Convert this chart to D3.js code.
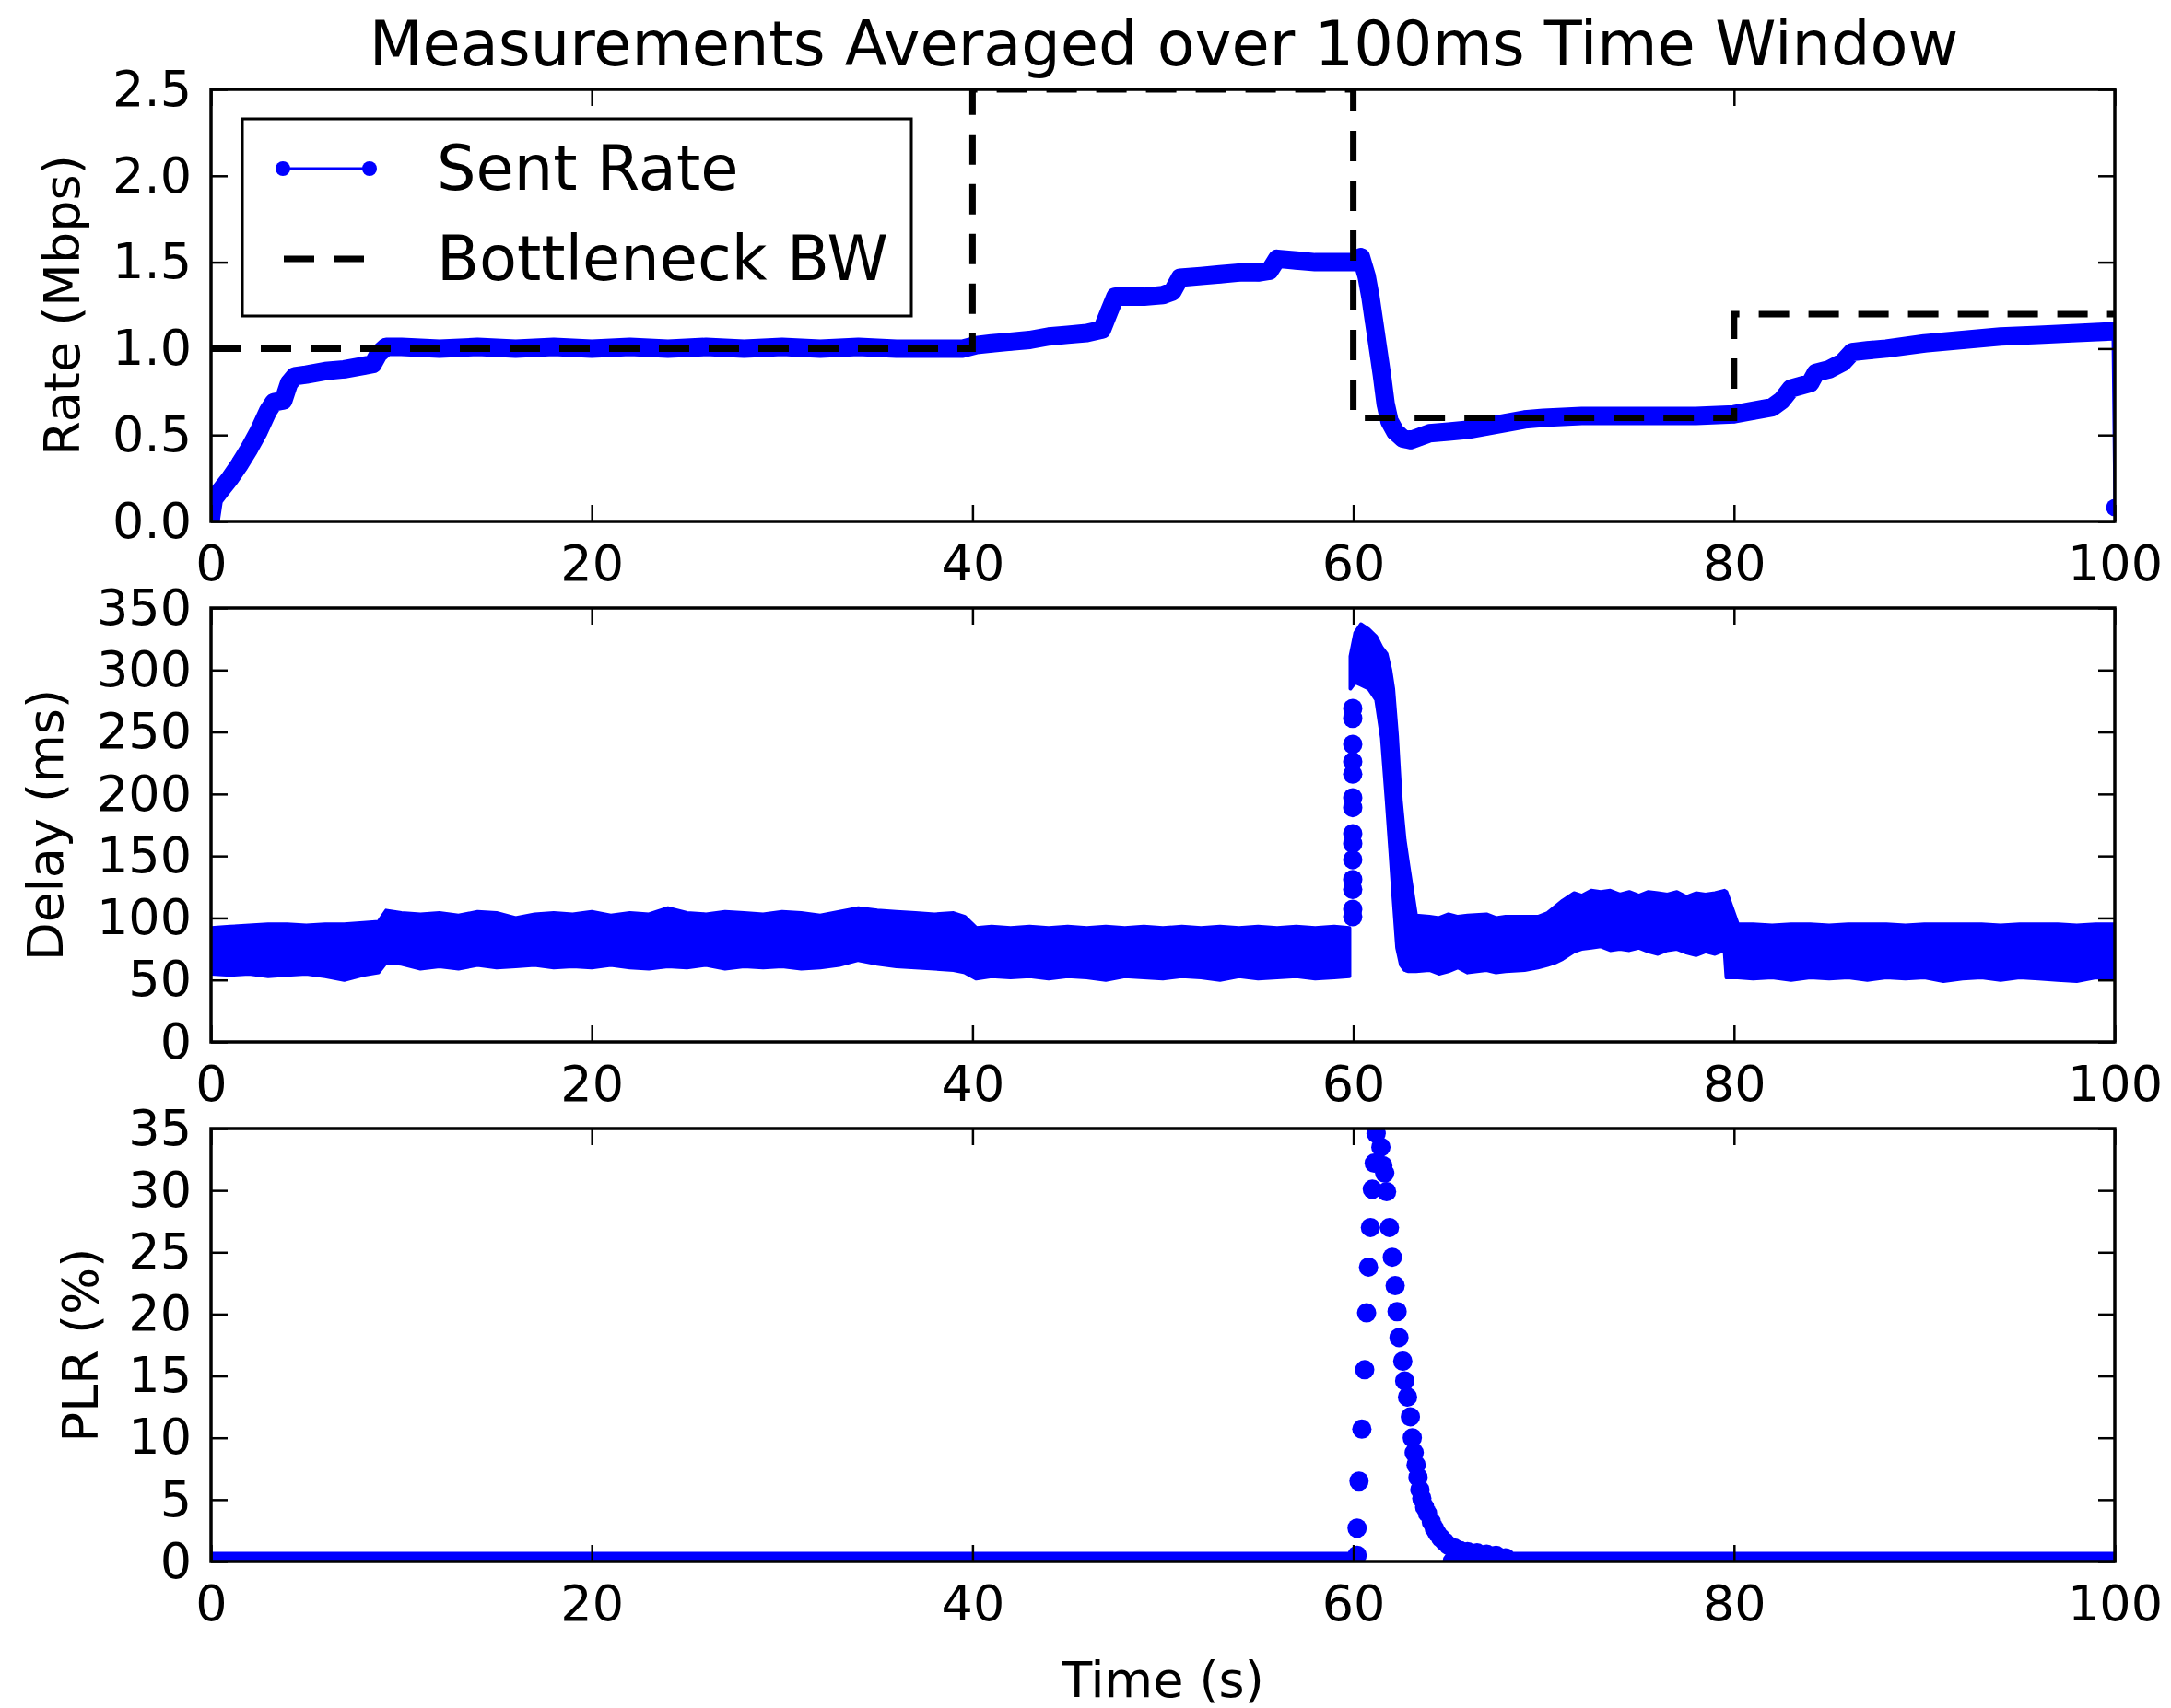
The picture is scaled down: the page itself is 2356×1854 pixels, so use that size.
<!DOCTYPE html>
<html>
<head>
<meta charset="utf-8">
<script src="https://cdn.jsdelivr.net/npm/d3@7"></script>
<style>
  html, body { margin: 0; padding: 0; background: #fff; }
  svg text { font-family: "DejaVu Sans", sans-serif; fill: #000; }
</style>
</head>
<body>
<svg id="chart" width="2356" height="1854"></svg>
<script>
// ---- data ---------------------------------------------------------------
const xTicks = [0, 20, 40, 60, 80, 100];
const rateTicks = [0, 0.5, 1.0, 1.5, 2.0, 2.5];
const delayTicks = [0, 50, 100, 150, 200, 250, 300, 350];
const plrTicks = [0, 5, 10, 15, 20, 25, 30, 35];

// Sent rate (Mbps) per time (s)
const sentRate = [
  [0, 0.02], [0.15, 0.13], [0.5, 0.18], [1, 0.25], [1.5, 0.33], [2, 0.42], [2.5, 0.52],
  [3, 0.64], [3.3, 0.69], [3.8, 0.70], [4.1, 0.80], [4.4, 0.84], [5, 0.85], [6, 0.87],
  [7, 0.88], [8, 0.90], [8.5, 0.91], [8.8, 0.97], [9.2, 1.01], [10, 1.01], [12, 1.00],
  [14, 1.01], [16, 1.00], [18, 1.01], [20, 1.00], [22, 1.01], [24, 1.00], [26, 1.01],
  [28, 1.00], [30, 1.01], [32, 1.00], [34, 1.01], [36, 1.00], [38, 1.00], [39.5, 1.00],
  [40.2, 1.02], [41, 1.03], [42, 1.04], [43, 1.05], [44, 1.07], [45, 1.08], [46, 1.09],
  [46.8, 1.11], [47.2, 1.22], [47.5, 1.30], [48, 1.30], [49, 1.30], [50, 1.31], [50.5, 1.33],
  [50.9, 1.41], [52, 1.42], [53, 1.43], [54, 1.44], [55, 1.44], [55.6, 1.45], [56, 1.52],
  [57, 1.51], [58, 1.50], [59, 1.50], [60, 1.50], [60.4, 1.53], [60.7, 1.42], [60.9, 1.30],
  [61.1, 1.15], [61.3, 1.00], [61.5, 0.85], [61.7, 0.68], [61.9, 0.58], [62.2, 0.52],
  [62.6, 0.48], [63, 0.47], [63.5, 0.49], [64, 0.51], [65, 0.52], [66, 0.53], [67, 0.55],
  [68, 0.57], [69, 0.59], [70, 0.60], [72, 0.61], [75, 0.61], [78, 0.61], [80, 0.62],
  [81, 0.64], [82, 0.66], [82.5, 0.70], [83, 0.77], [84, 0.80], [84.3, 0.86], [85, 0.88],
  [85.7, 0.92], [86.2, 0.98], [87, 0.99], [88, 1.00], [90, 1.03], [92, 1.05], [94, 1.07],
  [96, 1.08], [98, 1.09], [99.9, 1.10], [100, 0.08]
];

// Bottleneck bandwidth (Mbps), step changes
const bottleneckBW = [[0, 1.0], [40, 2.5], [60, 0.6], [80, 1.2], [100, 1.2]];

// Delay (ms): [time, lowest sample, highest sample] of the dense sample cloud
const delayBandEarly = [
  [0, 55, 92], [1, 54, 93], [2, 55, 94], [3, 53, 95], [4, 54, 95], [5, 55, 94], [6, 53, 95],
  [7, 50, 95], [8, 54, 96], [8.8, 56, 97], [9.2, 64, 106], [10, 63, 104], [11, 59, 103],
  [12, 61, 104], [13, 59, 102], [14, 62, 105], [15, 60, 104], [16, 61, 100], [17, 62, 103],
  [18, 60, 104], [19, 61, 103], [20, 60, 105], [21, 62, 102], [22, 60, 104], [23, 59, 103],
  [24, 61, 108], [25, 60, 104], [26, 62, 103], [27, 59, 105], [28, 61, 104], [29, 60, 103],
  [30, 61, 105], [31, 59, 104], [32, 60, 102], [33, 62, 105], [34, 66, 108], [35, 63, 106],
  [36, 61, 105], [37, 60, 104], [38, 59, 103], [39, 58, 104], [39.6, 56, 101], [40.2, 51, 92],
  [41, 53, 93], [42, 52, 92], [43, 53, 93], [44, 51, 92], [45, 53, 93], [46, 52, 92],
  [47, 50, 93], [48, 53, 92], [49, 52, 93], [50, 51, 92], [51, 53, 93], [52, 52, 92],
  [53, 50, 93], [54, 53, 92], [55, 51, 93], [56, 52, 92], [57, 53, 93], [58, 51, 92],
  [59, 52, 93], [59.8, 53, 92]
];
const delayBandLate = [
  [59.85, 285, 311], [60.1, 290, 330], [60.4, 288, 337], [60.8, 285, 333], [61.2, 276, 327],
  [61.5, 245, 318], [61.75, 195, 313], [61.95, 152, 300], [62.1, 118, 285], [62.3, 76, 247],
  [62.5, 62, 195], [62.7, 58, 163], [62.9, 57, 142], [63.1, 57, 122], [63.3, 57, 102],
  [64, 58, 101], [64.5, 55, 100], [65, 57, 103], [65.5, 60, 101], [66, 56, 102], [67, 58, 103],
  [67.5, 56, 100], [68, 57, 101], [69, 58, 101], [69.7, 60, 101], [70.2, 62, 104],
  [70.6, 64, 109], [71, 67, 114], [71.6, 73, 120], [72, 75, 118], [72.5, 76, 122],
  [73, 77, 121], [73.5, 74, 122], [74, 75, 119], [74.5, 74, 121], [75, 76, 118],
  [75.5, 73, 121], [76, 71, 120], [76.5, 74, 119], [77, 75, 121], [77.5, 72, 117],
  [78, 70, 120], [78.5, 73, 119], [79, 71, 120], [79.5, 74, 122], [79.6, 52, 121],
  [80.2, 52, 95], [81, 51, 95], [82, 52, 94], [83, 50, 95], [84, 52, 95], [85, 51, 94],
  [86, 52, 95], [87, 50, 95], [88, 52, 95], [89, 51, 94], [90, 52, 95], [91, 49, 95],
  [92, 51, 95], [93, 52, 95], [94, 50, 94], [95, 52, 95], [96, 51, 95], [97, 50, 95],
  [98, 49, 94], [99, 52, 95], [100, 51, 95]
];
// Isolated delay samples while the queue builds up at t = 60 s
const delayOnsetDots = [
  [59.97, 101], [59.97, 107], [59.97, 123], [59.97, 131], [59.97, 147], [59.97, 160],
  [59.97, 168], [59.97, 189], [59.97, 197], [59.97, 216], [59.97, 226], [59.97, 240],
  [59.97, 261], [59.97, 269]
];

// Packet loss rate (%)
const plrSpike = [
  [60.2, 0.5], [60.2, 2.7], [60.3, 6.5], [60.45, 10.7], [60.6, 15.5], [60.7, 20.1],
  [60.8, 23.8], [60.9, 27.0], [61.0, 30.1], [61.1, 32.2], [61.2, 34.6], [61.3, 35.5],
  [61.45, 33.5], [61.55, 32.0], [61.65, 31.4], [61.75, 29.9], [61.9, 27.0], [62.05, 24.6],
  [62.2, 22.3], [62.3, 20.2], [62.4, 18.1], [62.6, 16.2], [62.7, 14.6], [62.85, 13.3],
  [63.0, 11.7], [63.1, 10.0], [63.2, 8.8], [63.3, 7.8], [63.4, 6.8], [63.5, 5.8],
  [63.6, 5.1], [63.75, 4.4], [63.9, 3.9], [64.1, 3.2], [64.25, 2.7], [64.4, 2.3],
  [64.6, 1.9], [64.8, 1.6], [65.0, 1.3], [65.3, 1.1], [65.6, 0.9], [66.0, 0.8],
  [66.5, 0.7], [67.0, 0.6], [67.5, 0.5], [68.0, 0.3]
];
// Spans (s) where the loss rate stays at zero
const plrZeroSpans = [[0, 60.1], [65.2, 100]];

// ---- layout -------------------------------------------------------------
const BLUE = "#0000ff";
const TICK_FONT = 54, BIG_FONT = 67;
const DOT_R = 10.5;
const left = 229, right = 2295;
const panels = [
  { top: 97, bottom: 566 },
  { top: 660, bottom: 1131 },
  { top: 1225, bottom: 1695 }
];

const svg = d3.select("#chart");
const x = d3.scaleLinear().domain([0, 100]).range([left, right]);

const yRate = d3.scaleLinear().domain([0, 2.5]).range([panels[0].bottom, panels[0].top]);
const yDelay = d3.scaleLinear().domain([0, 350]).range([panels[1].bottom, panels[1].top]);
const yPlr = d3.scaleLinear().domain([0, 35]).range([panels[2].bottom, panels[2].top]);

const defs = svg.append("defs");
panels.forEach((p, i) => {
  defs.append("clipPath").attr("id", "clip" + i)
    .append("rect").attr("x", left).attr("y", p.top)
    .attr("width", right - left).attr("height", p.bottom - p.top);
});

// ---- panel 1: rates -------------------------------------------------------
const g1 = svg.append("g").attr("clip-path", "url(#clip0)");
const rateLine = d3.line().x(d => x(d[0])).y(d => yRate(d[1]));
// dense 100 ms samples form a thick trace; the last sample is joined by a thin connector
g1.append("path").datum(sentRate.slice(0, -1))
  .attr("d", rateLine).attr("fill", "none").attr("stroke", BLUE)
  .attr("stroke-width", 20).attr("stroke-linejoin", "round").attr("stroke-linecap", "round");
g1.append("path").datum(sentRate)
  .attr("d", rateLine).attr("fill", "none").attr("stroke", BLUE).attr("stroke-width", 3);
g1.selectAll("circle.rate").data(sentRate).join("circle").attr("class", "rate")
  .attr("cx", d => x(d[0])).attr("cy", d => yRate(d[1])).attr("r", 9.5).attr("fill", BLUE);
g1.append("path").datum(bottleneckBW)
  .attr("d", d3.line().curve(d3.curveStepAfter).x(d => x(d[0])).y(d => yRate(d[1])))
  .attr("fill", "none").attr("stroke", "#000").attr("stroke-width", 7)
  .attr("stroke-dasharray", "33,21");

// ---- panel 2: delay -------------------------------------------------------
const g2 = svg.append("g").attr("clip-path", "url(#clip1)");
const delayArea = d3.area().x(d => x(d[0])).y0(d => yDelay(d[1])).y1(d => yDelay(d[2]));
[delayBandEarly, delayBandLate].forEach(band => {
  g2.append("path").datum(band).attr("d", delayArea)
    .attr("fill", BLUE).attr("stroke", BLUE).attr("stroke-width", 4)
    .attr("stroke-linejoin", "round");
});
g2.selectAll("circle.onset").data(delayOnsetDots).join("circle").attr("class", "onset")
  .attr("cx", d => x(d[0])).attr("cy", d => yDelay(d[1])).attr("r", DOT_R).attr("fill", BLUE);

// ---- panel 3: packet loss ---------------------------------------------------
const g3 = svg.append("g").attr("clip-path", "url(#clip2)");
g3.selectAll("line.zero").data(plrZeroSpans).join("line").attr("class", "zero")
  .attr("x1", d => x(d[0])).attr("x2", d => x(d[1]))
  .attr("y1", yPlr(0)).attr("y2", yPlr(0))
  .attr("stroke", BLUE).attr("stroke-width", 2 * DOT_R).attr("stroke-linecap", "round");
g3.selectAll("circle.plr").data(plrSpike).join("circle").attr("class", "plr")
  .attr("cx", d => x(d[0])).attr("cy", d => yPlr(d[1])).attr("r", DOT_R).attr("fill", BLUE);

// ---- axes -------------------------------------------------------------------
function styleAxis(sel) {
  sel.select(".domain").remove();
  sel.attr("font-size", null).attr("font-family", null);
  sel.selectAll(".tick line").attr("stroke", "#000").attr("stroke-width", 2.5);
  sel.selectAll(".tick text").attr("font-size", TICK_FONT);
}

function drawAxes(p, y, yTicks, yFmt) {
  const g = svg.append("g");
  g.append("g").attr("transform", `translate(0,${p.bottom})`)
    .call(d3.axisBottom(x).tickValues(xTicks).tickSizeInner(-18).tickSizeOuter(0)
      .tickPadding(26).tickFormat(d3.format("d")))
    .call(styleAxis);
  g.append("g").attr("transform", `translate(0,${p.top})`)
    .call(d3.axisTop(x).tickValues(xTicks).tickSizeInner(-18).tickSizeOuter(0).tickFormat(""))
    .call(styleAxis);
  g.append("g").attr("transform", `translate(${left},0)`)
    .call(d3.axisLeft(y).tickValues(yTicks).tickSizeInner(-18).tickSizeOuter(0)
      .tickPadding(21).tickFormat(yFmt))
    .call(styleAxis);
  g.append("g").attr("transform", `translate(${right},0)`)
    .call(d3.axisRight(y).tickValues(yTicks).tickSizeInner(-18).tickSizeOuter(0).tickFormat(""))
    .call(styleAxis);
  g.append("rect").attr("x", left).attr("y", p.top)
    .attr("width", right - left).attr("height", p.bottom - p.top)
    .attr("fill", "none").attr("stroke", "#000").attr("stroke-width", 3.5);
}
drawAxes(panels[0], yRate, rateTicks, d3.format(".1f"));
drawAxes(panels[1], yDelay, delayTicks, d3.format("d"));
drawAxes(panels[2], yPlr, plrTicks, d3.format("d"));

// ---- labels -----------------------------------------------------------------
svg.append("text").attr("x", (left + right) / 2 + 1).attr("y", 71)
  .attr("text-anchor", "middle").attr("font-size", BIG_FONT)
  .text("Measurements Averaged over 100ms Time Window");

const yLabels = [
  { text: "Rate (Mbps)", x: 86, p: panels[0] },
  { text: "Delay (ms)", x: 68, p: panels[1] },
  { text: "PLR (%)", x: 106, p: panels[2] }
];
yLabels.forEach(l => {
  svg.append("text")
    .attr("transform", `translate(${l.x},${(l.p.top + l.p.bottom) / 2}) rotate(-90)`)
    .attr("text-anchor", "middle").attr("font-size", TICK_FONT).text(l.text);
});

svg.append("text").attr("x", (left + right) / 2).attr("y", 1842)
  .attr("text-anchor", "middle").attr("font-size", TICK_FONT).text("Time (s)");

// ---- legend -----------------------------------------------------------------
const lg = svg.append("g");
lg.append("rect").attr("x", 263).attr("y", 129).attr("width", 726).attr("height", 214)
  .attr("fill", "#fff").attr("stroke", "#000").attr("stroke-width", 3);
const legendItems = [
  { label: "Sent Rate", y: 183, kind: "rate" },
  { label: "Bottleneck BW", y: 281, kind: "bw" }
];
legendItems.forEach(item => {
  if (item.kind === "rate") {
    lg.append("line").attr("x1", 307).attr("x2", 401).attr("y1", item.y).attr("y2", item.y)
      .attr("stroke", BLUE).attr("stroke-width", 3);
    [307, 401].forEach(cx => lg.append("circle").attr("cx", cx).attr("cy", item.y)
      .attr("r", 8).attr("fill", BLUE));
  } else {
    lg.append("line").attr("x1", 308).attr("x2", 401).attr("y1", item.y).attr("y2", item.y)
      .attr("stroke", "#000").attr("stroke-width", 7).attr("stroke-dasharray", "33,21");
  }
  lg.append("text").attr("x", 474).attr("y", item.y + 23)
    .attr("font-size", BIG_FONT).text(item.label);
});
</script>
</body>
</html>
